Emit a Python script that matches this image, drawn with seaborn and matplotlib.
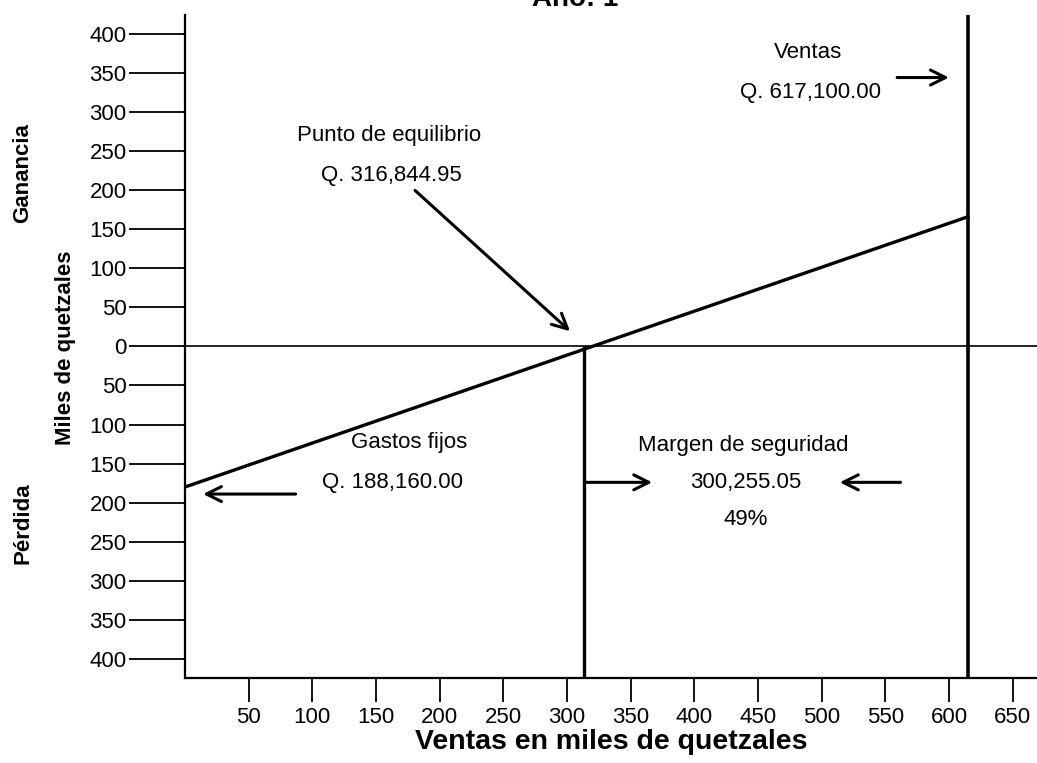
import matplotlib
matplotlib.use("Agg")
import matplotlib.pyplot as plt
import pandas as pd
import seaborn as sns

# valores en miles de quetzales
ventas_x = [0, 615]
utilidad_y = [-180, 166]
equilibrio_x = 313
ventas_total_x = 615
x_ticks = [50, 100, 150, 200, 250, 300, 350, 400, 450, 500, 550, 600, 650]
y_ticks = [-400, -350, -300, -250, -200, -150, -100, -50, 0, 50, 100, 150, 200, 250, 300, 350, 400]
y_labels = [str(abs(v)) for v in y_ticks]

df = pd.DataFrame({'Ventas': ventas_x, 'Utilidad': utilidad_y})

sns.set_theme(style='white')
plt.rcParams['font.family'] = ['Liberation Sans', 'DejaVu Sans']
plt.rcParams['text.color'] = 'black'
plt.rcParams['axes.labelcolor'] = 'black'
plt.rcParams['xtick.color'] = 'black'
plt.rcParams['ytick.color'] = 'black'

fig = plt.figure(figsize=(10.37, 7.63), dpi=100)
ax = fig.add_axes([0.1784, 0.1118, 0.8216, 0.8685])

# linea horizontal de cero
ax.axhline(0, color='black', lw=1.2, zorder=1)

# linea de utilidad / perdida
sns.lineplot(data=df, x='Ventas', y='Utilidad', color='black', lw=2.4, ax=ax)

# punto de equilibrio y ventas
ax.vlines(equilibrio_x, -424, 0, color='black', lw=2.4)
ax.axvline(ventas_total_x, color='black', lw=2.6)

ax.set_xlim(0, 669)
ax.set_ylim(-424, 424)
ax.set_xticks(x_ticks)
ax.set_yticks(y_ticks)
ax.set_yticklabels(y_labels)
ax.tick_params(axis='y', length=40, width=1.3, pad=2, labelsize=16, direction='out', left=True)
ax.tick_params(axis='x', length=17, width=1.3, pad=4, labelsize=16, direction='out', bottom=True)
for s in ['top', 'right']:
    ax.spines[s].set_visible(False)
for s in ['left', 'bottom']:
    ax.spines[s].set_color('black')
    ax.spines[s].set_linewidth(1.6)

ax.set_xlabel('Ventas en miles de quetzales', fontsize=20.5, fontweight='bold', labelpad=1)
ax.set_ylabel('')

# textos laterales
fig.text(65 / 1037, 1 - 348 / 763, 'Miles de quetzales', rotation=90, fontsize=16,
         fontweight='bold', ha='center', va='center')
fig.text(23 / 1037, 1 - 173 / 763, 'Ganancia', rotation=90, fontsize=16,
         fontweight='bold', ha='center', va='center')
fig.text(23 / 1037, 1 - 523 / 763, 'Pérdida', rotation=90, fontsize=16,
         fontweight='bold', ha='center', va='center')
fig.text(575 / 1037, 1 - 12 / 763, 'Año: 1', fontsize=20, fontweight='bold',
         ha='center', va='bottom')

arrow = dict(arrowstyle='->,head_length=0.9,head_width=0.45', color='black', lw=2.2)
fs = 16

# Ventas
ax.text(489, 376, 'Ventas', fontsize=fs, ha='center', va='center')
ax.text(491, 325, 'Q. 617,100.00', fontsize=fs, ha='center', va='center')
ax.annotate('', xy=(602, 344), xytext=(557, 344), arrowprops=arrow)

# Punto de equilibrio
ax.text(160, 270, 'Punto de equilibrio', fontsize=fs, ha='center', va='center')
ax.text(162, 219, 'Q. 316,844.95', fontsize=fs, ha='center', va='center')
ax.annotate('', xy=(304, 17), xytext=(179, 202), arrowprops=arrow)

# Gastos fijos
ax.text(176, -123, 'Gastos fijos', fontsize=fs, ha='center', va='center')
ax.text(163, -174, 'Q. 188,160.00', fontsize=fs, ha='center', va='center')
ax.annotate('', xy=(12, -189), xytext=(89, -189), arrowprops=arrow)

# Margen de seguridad
ax.text(438, -127, 'Margen de seguridad', fontsize=fs, ha='center', va='center')
ax.text(440, -174, '300,255.05', fontsize=fs, ha='center', va='center')
ax.text(440, -222, '49%', fontsize=fs, ha='center', va='center')
ax.annotate('', xy=(369, -174), xytext=(312, -174), arrowprops=arrow)
ax.annotate('', xy=(512, -174), xytext=(564, -174), arrowprops=arrow)

fig.savefig('out.png', dpi=100)
